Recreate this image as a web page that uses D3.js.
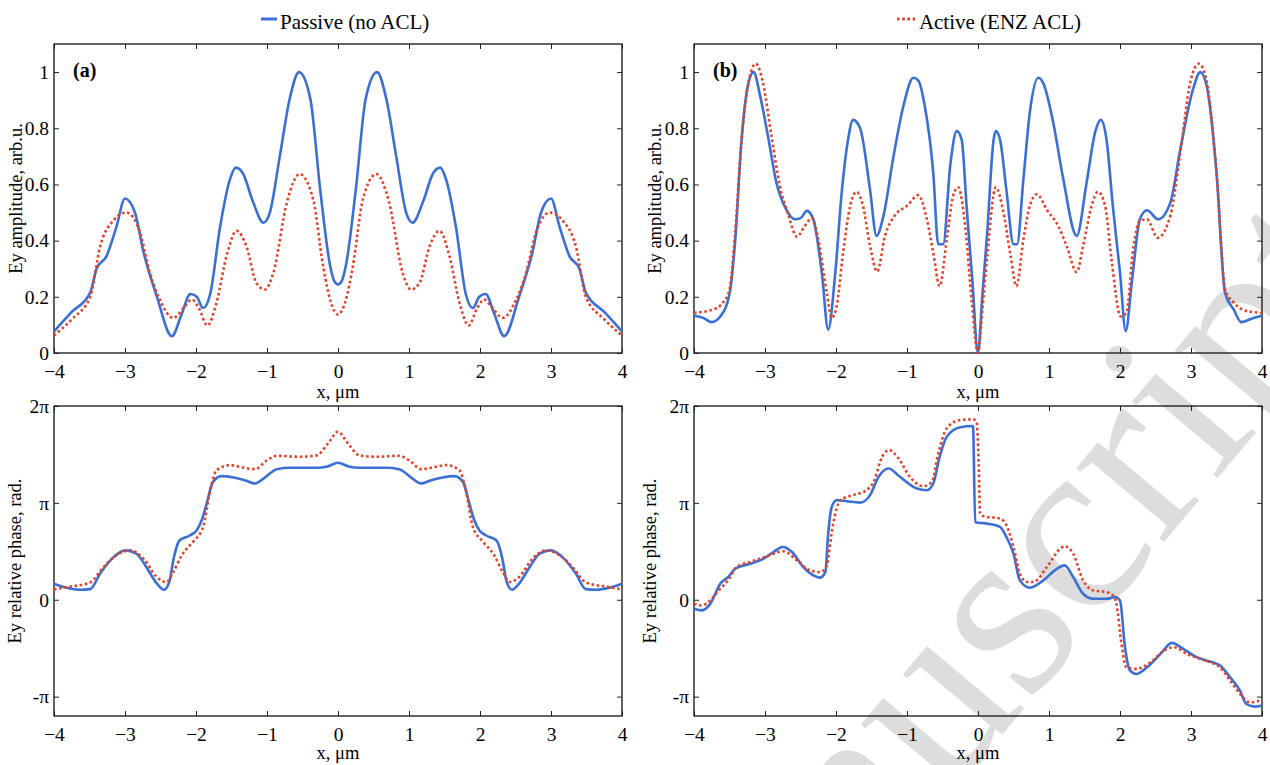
<!DOCTYPE html>
<html><head><meta charset="utf-8">
<script src="https://cdn.jsdelivr.net/npm/d3@7"></script>
<style>body{margin:0;background:#fff}svg{font-family:"Liberation Serif","Times New Roman",serif}</style>
</head><body><svg id="c" width="1270" height="765"></svg>
<script>
// ---------- tick labels ----------
const xTicks=[-4,-3,-2,-1,0,1,2,3,4];
const ampTicks=[0,0.2,0.4,0.6,0.8,1];
const ampLabels=["0","0.2","0.4","0.6","0.8","1"];
const phaseTicks=[-1,0,1,2];           // in units of pi
const phaseLabels=["-π","0","π","2π"];
const seriesNames=["Passive (no ACL)","Active (ENZ ACL)"];

// ---------- (a) amplitude, periodic structure ----------
const aPassX=[-4,-3.75,-3.49,-3.4,-3.26,-3.12,-3.0,-2.86,-2.74,-2.55,-2.34,-2.2,-2.08,-1.99,-1.9,-1.8,-1.66,-1.52,-1.44,-1.34,-1.2,-1.05,-0.96,-0.82,-0.68,-0.55,-0.39,-0.25,-0.11,-0.05,0,0.05,0.11,0.25,0.39,0.55,0.68,0.82,0.96,1.05,1.2,1.34,1.44,1.52,1.66,1.8,1.9,1.99,2.08,2.2,2.34,2.55,2.74,2.86,3.0,3.12,3.26,3.4,3.49,3.75,4];
const aPassY=[0.077,0.146,0.215,0.30,0.345,0.45,0.55,0.50,0.36,0.20,0.06,0.14,0.21,0.20,0.16,0.21,0.45,0.62,0.66,0.64,0.54,0.464,0.50,0.70,0.905,1.0,0.905,0.58,0.31,0.255,0.244,0.255,0.31,0.58,0.905,1.0,0.905,0.70,0.50,0.464,0.54,0.64,0.66,0.62,0.45,0.21,0.16,0.20,0.21,0.14,0.06,0.20,0.36,0.50,0.55,0.45,0.345,0.30,0.215,0.146,0.077];
const aActX=[-4,-3.75,-3.49,-3.35,-3.17,-2.98,-2.79,-2.65,-2.51,-2.32,-2.16,-2.06,-1.96,-1.84,-1.71,-1.57,-1.43,-1.29,-1.15,-1.03,-0.91,-0.72,-0.54,-0.35,-0.21,-0.1,0,0.1,0.21,0.35,0.54,0.72,0.91,1.03,1.15,1.29,1.43,1.57,1.71,1.84,1.96,2.06,2.16,2.32,2.51,2.65,2.79,2.98,3.17,3.35,3.49,3.75,4];
const aActY=[0.062,0.12,0.20,0.38,0.47,0.50,0.43,0.286,0.19,0.125,0.165,0.19,0.16,0.098,0.18,0.345,0.435,0.38,0.25,0.226,0.286,0.536,0.637,0.547,0.31,0.18,0.137,0.18,0.31,0.547,0.637,0.536,0.286,0.226,0.25,0.38,0.435,0.345,0.18,0.098,0.16,0.19,0.165,0.125,0.19,0.286,0.43,0.50,0.47,0.38,0.20,0.12,0.062];

// ---------- (b) amplitude, with defect ----------
const bPassX=[-4,-3.87,-3.75,-3.63,-3.5,-3.42,-3.33,-3.25,-3.16,-3.07,-2.95,-2.84,-2.7,-2.58,-2.5,-2.41,-2.32,-2.2,-2.11,-2.01,-1.92,-1.83,-1.76,-1.66,-1.52,-1.43,-1.33,-1.19,-1.05,-0.91,-0.84,-0.75,-0.63,-0.56,-0.49,-0.39,-0.3,-0.23,-0.16,-0.08,0,0.06,0.13,0.22,0.25,0.31,0.4,0.5,0.55,0.64,0.73,0.85,0.92,1.06,1.2,1.39,1.53,1.65,1.73,1.81,1.9,2.0,2.08,2.17,2.28,2.38,2.54,2.71,2.85,3.03,3.13,3.22,3.36,3.48,3.6,3.71,3.88,4];
const bPassY=[0.133,0.125,0.11,0.13,0.21,0.40,0.76,0.94,1.0,0.917,0.76,0.607,0.51,0.476,0.48,0.506,0.476,0.286,0.083,0.286,0.57,0.76,0.83,0.80,0.58,0.417,0.49,0.70,0.88,0.98,0.97,0.88,0.64,0.387,0.387,0.67,0.79,0.76,0.52,0.26,0,0.2,0.43,0.76,0.79,0.76,0.58,0.387,0.387,0.62,0.857,0.98,0.96,0.82,0.62,0.417,0.607,0.786,0.83,0.76,0.52,0.286,0.078,0.26,0.476,0.508,0.476,0.536,0.726,0.94,1.0,0.952,0.64,0.214,0.155,0.11,0.125,0.133];
const bActX=[-4,-3.73,-3.59,-3.5,-3.42,-3.33,-3.21,-3.13,-3.03,-2.91,-2.79,-2.67,-2.55,-2.44,-2.34,-2.25,-2.13,-2.06,-1.99,-1.9,-1.8,-1.71,-1.62,-1.52,-1.42,-1.31,-1.17,-1.0,-0.84,-0.72,-0.63,-0.54,-0.44,-0.35,-0.28,-0.18,-0.09,0,0.06,0.13,0.25,0.34,0.46,0.54,0.64,0.73,0.83,0.97,1.13,1.25,1.39,1.48,1.6,1.69,1.79,1.88,2.01,2.09,2.19,2.28,2.38,2.53,2.71,2.85,2.99,3.11,3.2,3.36,3.48,3.6,3.79,4];
const bActY=[0.143,0.155,0.18,0.226,0.43,0.76,0.99,1.03,0.964,0.774,0.595,0.49,0.414,0.452,0.48,0.405,0.214,0.125,0.167,0.357,0.524,0.574,0.524,0.38,0.29,0.417,0.49,0.524,0.562,0.476,0.357,0.238,0.405,0.56,0.59,0.452,0.19,0,0.15,0.345,0.59,0.524,0.345,0.238,0.405,0.524,0.565,0.51,0.452,0.38,0.288,0.38,0.524,0.574,0.524,0.333,0.13,0.143,0.38,0.47,0.476,0.41,0.49,0.714,0.964,1.03,0.99,0.64,0.226,0.18,0.149,0.143];

// ---------- (c) phase (units of pi), periodic ----------
const cPassX=[-4,-3.82,-3.63,-3.49,-3.35,-3.16,-3.0,-2.84,-2.7,-2.55,-2.45,-2.37,-2.32,-2.23,-2.08,-1.99,-1.92,-1.85,-1.76,-1.64,-1.47,-1.29,-1.17,-1.05,-0.86,-0.68,-0.3,-0.15,0,0.15,0.3,0.68,0.86,1.05,1.17,1.29,1.47,1.64,1.76,1.85,1.92,1.99,2.08,2.23,2.32,2.37,2.45,2.55,2.7,2.84,3.0,3.16,3.35,3.49,3.63,3.82,4];
const cPassY=[0.166,0.124,0.103,0.11,0.27,0.44,0.51,0.476,0.338,0.166,0.103,0.2,0.407,0.614,0.666,0.717,0.82,0.993,1.217,1.276,1.262,1.228,1.2,1.25,1.348,1.362,1.362,1.375,1.414,1.375,1.362,1.362,1.348,1.25,1.2,1.228,1.262,1.276,1.217,0.993,0.82,0.717,0.666,0.614,0.407,0.2,0.103,0.166,0.338,0.476,0.51,0.44,0.27,0.11,0.103,0.124,0.166];
const cActX=[-4,-3.82,-3.49,-3.3,-3.12,-2.93,-2.74,-2.55,-2.42,-2.32,-2.2,-2.04,-1.9,-1.8,-1.71,-1.52,-1.38,-1.17,-1.0,-0.86,-0.54,-0.3,-0.14,0,0.14,0.3,0.54,0.86,1.0,1.17,1.38,1.52,1.71,1.8,1.9,2.04,2.2,2.32,2.42,2.55,2.74,2.93,3.12,3.3,3.49,3.82,4];
const cActY=[0.107,0.13,0.18,0.34,0.46,0.51,0.424,0.234,0.183,0.286,0.46,0.6,0.75,1.13,1.338,1.39,1.372,1.348,1.44,1.486,1.476,1.49,1.614,1.734,1.614,1.49,1.476,1.486,1.44,1.348,1.372,1.39,1.338,1.13,0.75,0.6,0.46,0.286,0.183,0.234,0.424,0.51,0.46,0.34,0.18,0.13,0.107];

// ---------- (d) phase (units of pi), with defect ----------
const dPassX=[-4,-3.89,-3.77,-3.63,-3.52,-3.42,-3.21,-3.02,-2.88,-2.75,-2.62,-2.46,-2.32,-2.23,-2.15,-2.11,-2.06,-1.99,-1.85,-1.66,-1.52,-1.4,-1.26,-1.1,-0.86,-0.72,-0.63,-0.54,-0.44,-0.25,-0.07,-0.04,0.12,0.31,0.4,0.5,0.59,0.73,0.92,1.08,1.22,1.34,1.48,1.62,1.81,1.93,2.0,2.07,2.14,2.23,2.38,2.57,2.73,2.89,3.08,3.27,3.41,3.55,3.69,3.78,3.9,4];
const dPassY=[-0.093,-0.11,-0.04,0.166,0.234,0.32,0.372,0.424,0.493,0.545,0.493,0.338,0.252,0.228,0.286,0.683,0.959,1.028,1.017,1.003,1.08,1.27,1.355,1.27,1.148,1.131,1.2,1.476,1.683,1.78,1.793,0.80,0.786,0.752,0.648,0.476,0.2,0.124,0.2,0.303,0.355,0.234,0.062,0.01,0.01,0.028,-0.007,-0.49,-0.73,-0.766,-0.697,-0.559,-0.445,-0.507,-0.593,-0.638,-0.679,-0.8,-0.938,-1.076,-1.103,-1.093];
const dActX=[-4,-3.89,-3.8,-3.63,-3.52,-3.4,-3.21,-3.0,-2.74,-2.55,-2.37,-2.23,-2.14,-2.04,-1.94,-1.76,-1.57,-1.47,-1.35,-1.25,-1.12,-0.96,-0.77,-0.65,-0.56,-0.44,-0.25,-0.07,-0.02,0.01,0.03,0.08,0.31,0.4,0.5,0.59,0.69,0.78,0.97,1.16,1.22,1.34,1.48,1.62,1.81,1.9,1.95,2.02,2.09,2.23,2.43,2.62,2.76,2.94,3.17,3.41,3.55,3.69,3.83,4];
const dActY=[-0.04,-0.059,-0.024,0.114,0.2,0.338,0.39,0.441,0.5,0.407,0.303,0.286,0.338,0.786,1.028,1.08,1.131,1.217,1.476,1.545,1.459,1.27,1.172,1.217,1.51,1.77,1.855,1.862,1.84,1.4,0.89,0.862,0.838,0.769,0.545,0.269,0.183,0.183,0.338,0.528,0.552,0.476,0.2,0.097,0.079,0.045,-0.041,-0.455,-0.697,-0.714,-0.645,-0.524,-0.49,-0.559,-0.621,-0.697,-0.834,-0.972,-1.059,-1.034];

// ---------- drawing ----------
const BLUE="#3a6fd5", RED="#e2432a";
const svg=d3.select("#c");

// faint watermark
svg.append("text").attr("transform","translate(652,1152) rotate(-50)")
  .attr("font-size",250).attr("fill","#dddddd").text("Manuscript");

const zip=(xs,ys)=>xs.map((v,i)=>[v,ys[i]]);

function panel(cfg){
  const x=d3.scaleLinear().domain([-4,4]).range([cfg.l,cfg.r]);
  const y=d3.scaleLinear().domain(cfg.yd).range([cfg.b,cfg.t]);
  const g=svg.append("g");
  const styleAxis=sel=>{sel.select(".domain").remove();
    sel.selectAll("text").attr("font-family","Liberation Serif, serif").attr("font-size",19.5).attr("fill","#000");
    sel.selectAll("line").attr("stroke","#222");};
  g.append("g").attr("transform",`translate(0,${cfg.b})`)
    .call(d3.axisBottom(x).tickValues(xTicks).tickSizeInner(-5).tickSizeOuter(0).tickPadding(11).tickFormat(d3.format("d"))).call(styleAxis);
  g.append("g").attr("transform",`translate(0,${cfg.t})`)
    .call(d3.axisTop(x).tickValues(xTicks).tickSizeInner(-5).tickSizeOuter(0).tickFormat("")).call(styleAxis);
  g.append("g").attr("transform",`translate(${cfg.l},0)`)
    .call(d3.axisLeft(y).tickValues(cfg.yt).tickSizeInner(-5).tickSizeOuter(0).tickPadding(5).tickFormat((d,i)=>cfg.yl[i])).call(styleAxis);
  g.append("g").attr("transform",`translate(${cfg.r},0)`)
    .call(d3.axisRight(y).tickValues(cfg.yt).tickSizeInner(-5).tickSizeOuter(0).tickFormat("")).call(styleAxis);
  g.append("rect").attr("x",cfg.l).attr("y",cfg.t).attr("width",cfg.r-cfg.l).attr("height",cfg.b-cfg.t)
    .attr("fill","none").attr("stroke","#222").attr("stroke-width",1.4);
  const line=d3.line().x(d=>x(d[0])).y(d=>y(d[1])).curve(d3.curveMonotoneX);
  g.append("path").datum(zip(cfg.px,cfg.py)).attr("d",line).attr("fill","none")
    .attr("stroke",BLUE).attr("stroke-width",2.6).attr("stroke-linejoin","round");
  g.append("path").datum(zip(cfg.ax,cfg.ay)).attr("d",line).attr("fill","none")
    .attr("stroke",RED).attr("stroke-width",2.6).attr("stroke-dasharray","2.6,2.6");
  g.append("text").attr("x",(cfg.l+cfg.r)/2).attr("y",cfg.b+cfg.xlY).attr("text-anchor","middle")
    .attr("font-size",18.5).text("x, μm");
  g.append("text").attr("transform",`translate(${cfg.ylX},${(cfg.t+cfg.b)/2}) rotate(-90)`)
    .attr("text-anchor","middle").attr("font-size",18.5).text(cfg.ytitle);
  if(cfg.tag) g.append("text").attr("x",cfg.l+19).attr("y",cfg.t+33).attr("font-size",20)
    .attr("font-weight","bold").text(cfg.tag);
}

panel({l:54,r:622,t:44,b:353,yd:[0,1.1],yt:ampTicks,yl:ampLabels,px:aPassX,py:aPassY,ax:aActX,ay:aActY,
  ytitle:"Ey amplitude, arb.u.",ylX:22,xlY:45,tag:"(a)"});
panel({l:694,r:1262,t:44,b:353,yd:[0,1.1],yt:ampTicks,yl:ampLabels,px:bPassX,py:bPassY,ax:bActX,ay:bActY,
  ytitle:"Ey amplitude, arb.u.",ylX:661,xlY:45,tag:"(b)"});
panel({l:54,r:622,t:406,b:716,yd:[-1.2,2],yt:phaseTicks,yl:phaseLabels,px:cPassX,py:cPassY,ax:cActX,ay:cActY,
  ytitle:"Ey relative phase, rad.",ylX:21,xlY:43});
panel({l:694,r:1262,t:406,b:716,yd:[-1.2,2],yt:phaseTicks,yl:phaseLabels,px:dPassX,py:dPassY,ax:dActX,ay:dActY,
  ytitle:"Ey relative phase, rad.",ylX:656,xlY:43});

// legend
const lg=svg.append("g").attr("font-size",21);
lg.append("line").attr("x1",261).attr("x2",277).attr("y1",19).attr("y2",19).attr("stroke",BLUE).attr("stroke-width",3);
lg.append("text").attr("x",280).attr("y",29).text(seriesNames[0]);
lg.append("line").attr("x1",897).attr("x2",915).attr("y1",19).attr("y2",19).attr("stroke",RED).attr("stroke-width",3).attr("stroke-dasharray","2.6,2.6");
lg.append("text").attr("x",1081).attr("y",29).attr("text-anchor","end").text(seriesNames[1]);
</script></body></html>
